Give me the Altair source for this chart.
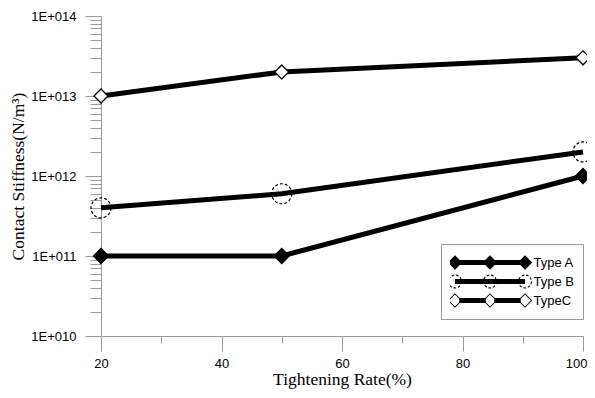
import math
import altair as alt
import pandas as pd

# ---- data ----
x_vals = [20, 50, 100]
series_names = ["Type A", "Type B", "TypeC"]
type_a = [1e11, 1e11, 1e12]
type_b = [4e11, 6e11, 2e12]
type_c = [1e13, 2e13, 3e13]

x_ticks = [20, 30, 40, 50, 60, 70, 80, 90, 100]
y_ticks = [m * 10.0 ** e for e in range(10, 14) for m in range(1, 10)] + [1e14]

rows = []
for name, vals in zip(series_names, [type_a, type_b, type_c]):
    for x, v in zip(x_vals, vals):
        rows.append({"series": name, "rate": x, "stiffness": v})
df = pd.DataFrame(rows)

W, H = 482, 320
AXC = "#9a9a9a"
SANS = "Liberation Sans"
SERIF = "Liberation Serif"

is_major_y = "abs(log(datum.value)/LN10 - round(log(datum.value)/LN10)) < 0.001"

x_enc = alt.X(
    "rate:Q",
    scale=alt.Scale(domain=[20, 100], nice=False, zero=False),
    axis=alt.Axis(
        values=x_ticks,
        labelExpr="datum.value % 20 == 0 ? datum.label : ''",
        tickSize={"condition": {"test": "datum.value % 20 == 0", "value": 15}, "value": 7},
        labelAlign={"condition": {"test": "datum.value == 100", "value": "right"}, "value": "center"},
        labelOffset={"condition": {"test": "datum.value == 100", "value": 4}, "value": 0},
        title="Tightening Rate(%)",
        titleFont=SERIF, titleFontSize=17.5, titleFontWeight="normal", titleColor="black",
        titlePadding=0,
        labelFont=SANS, labelFontSize=13, labelColor="black", labelPadding=6,
        labelFlush=False, labelOverlap=False,
        domainColor=AXC, tickColor=AXC, grid=False,
    ),
)
y_enc = alt.Y(
    "stiffness:Q",
    scale=alt.Scale(type="log", domain=[1e10, 1e14], nice=False),
    axis=alt.Axis(
        values=y_ticks,
        labelExpr=f"({is_major_y}) ? '1E+0' + round(log(datum.value)/LN10) : ''",
        tickSize={"condition": {"test": is_major_y, "value": 16}, "value": 11},
        title="Contact Stiffness(N/m³)",
        titleFont=SERIF, titleFontSize=17.5, titleFontWeight="normal", titleColor="black",
        titleX=-83, titleY=160, titleAlign="center", titleBaseline="middle", titleAngle=270,
        labelFont=SANS, labelFontSize=13, labelColor="black", labelPadding=9,
        labelFlush=False, labelOverlap=False,
        domainColor=AXC, tickColor=AXC, grid=False,
    ),
)

# ---- legend symbol glyphs (unit = 1px with symbolSize 4) ----
def f(v):
    return f"{v:.2f}".rstrip("0").rstrip(".")

def rect(x0, x1, h):
    return f"M{f(x0)},{f(-h)}L{f(x1)},{f(-h)}L{f(x1)},{f(h)}L{f(x0)},{f(h)}Z"

def diamond(cx, r, ccw=False):
    pts = [(cx - r, 0), (cx, -r), (cx + r, 0), (cx, r)]
    if ccw:
        pts = pts[::-1]
    return "M" + "L".join(f"{f(px)},{f(py)}" for px, py in pts) + "Z"

def dashed_ring(cx, ro, ri, ndash=9, on=0.6):
    out = []
    step = 360.0 / ndash
    for k in range(ndash):
        a0 = k * step
        angs = [a0 + on * step * t / 3 for t in range(4)]
        outer = [(cx + ro * math.cos(math.radians(a)), ro * math.sin(math.radians(a))) for a in angs]
        inner = [(cx + ri * math.cos(math.radians(a)), ri * math.sin(math.radians(a))) for a in angs[::-1]]
        pts = outer + inner
        out.append("M" + "L".join(f"{f(px)},{f(py)}" for px, py in pts) + "Z")
    return " ".join(out)

SP = 35           # spacing of the three markers
CENTERS = [-SP, 0, SP]
LH = 2.5          # half thickness of legend line
BOX = 9.4         # vertical half extent reserved for every entry
bounds_pts = f"M0,{f(-BOX)}L0,{f(-BOX)} M0,{f(BOX)}L0,{f(BOX)}"

sym_a = " ".join([rect(-SP, SP, LH)] + [diamond(c, 7.2) for c in CENTERS] + [bounds_pts])
sym_b = " ".join([rect(-SP, SP, LH)] + [dashed_ring(c, 7.0, 5.9) for c in CENTERS] + [bounds_pts])
sym_c = " ".join(
    [rect(-SP + 4.2, -4.2, LH), rect(4.2, SP - 4.2, LH)]
    + [diamond(c, 7.2) + " " + diamond(c, 5.9, ccw=True) for c in CENTERS]
    + [bounds_pts]
)

legend = alt.Legend(
    title=None, orient="none", legendX=340, legendY=228, direction="vertical",
    symbolSize=4, symbolOffset=33.5, labelOffset=37, clipHeight=19,
    symbolFillColor="black", symbolStrokeColor="black", symbolStrokeWidth=0, symbolOpacity=1,
    labelFont=SANS, labelFontSize=13, labelColor="black",
    padding=9, rowPadding=0, strokeColor=AXC, fillColor="white",
)

lines = alt.Chart(df).mark_line(strokeWidth=5, color="black").encode(
    x=x_enc, y=y_enc, detail="series:N",
)

pts_a = alt.Chart(df).transform_filter(alt.datum.series == series_names[0]).mark_point(
    shape="diamond", filled=True, fill="black", stroke="black", size=196, opacity=1
).encode(x=x_enc, y=y_enc)
pts_b = alt.Chart(df).transform_filter(alt.datum.series == series_names[1]).mark_point(
    shape="circle", filled=False, stroke="black", strokeWidth=1.2, strokeDash=[3, 2], size=400, opacity=1
).encode(x=x_enc, y=y_enc)
pts_c = alt.Chart(df).transform_filter(alt.datum.series == series_names[2]).mark_point(
    shape="diamond", filled=True, fill="white", stroke="black", strokeWidth=1.3, size=196, opacity=1
).encode(x=x_enc, y=y_enc)

legend_marks = alt.Chart(df).transform_filter("false").mark_point(
    filled=True, color="black", opacity=1
).encode(
    x=x_enc, y=y_enc,
    shape=alt.Shape("series:N", scale=alt.Scale(domain=series_names, range=[sym_a, sym_b, sym_c]), legend=legend),
)

chart = alt.layer(lines, pts_a, pts_b, pts_c, legend_marks).properties(
    width=W, height=H, autosize="none",
    padding={"left": 93, "top": 8, "right": 4, "bottom": 54},
    background="white",
).configure_view(stroke=None)

chart.save("out.html", embed_options={"renderer": "svg", "actions": False})
